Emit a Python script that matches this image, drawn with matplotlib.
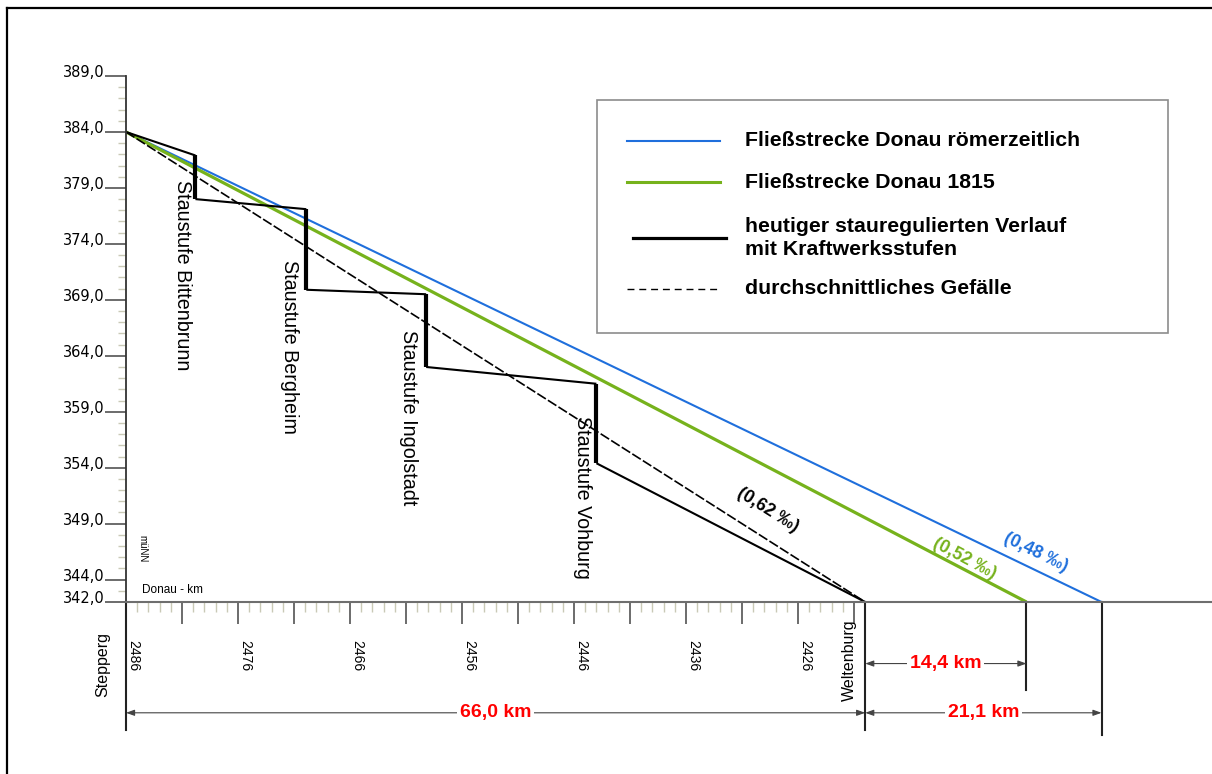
import numpy as np
import matplotlib
matplotlib.use("Agg")
import matplotlib.pyplot as plt
from matplotlib.lines import Line2D
from matplotlib.patches import Rectangle
from matplotlib.ticker import FixedLocator, FixedFormatter
import matplotlib.transforms as mtransforms

plt.rcParams["font.family"] = ["Liberation Sans", "DejaVu Sans"]

# distance from Stepperg (km) and water level (m uNN)
km_start = 2486
level_start = 384.0
level_end = 342.0
len_today = 66.0
len_1815 = 80.4
len_roman = 87.1

# staircase of today's regulated river: (km, level) corner points
stair_x = [0.0, 6.2, 6.2, 16.1, 16.1, 26.8, 26.8, 42.0, 42.0, 66.0]
stair_y = [384.0, 381.9, 378.0, 377.1, 369.9, 369.5, 363.0, 361.5, 354.4, 342.0]

dams = ["Staustufe Bittenbrunn", "Staustufe Bergheim",
        "Staustufe Ingolstadt", "Staustufe Vohburg"]
dam_label_x = [5.0, 14.6, 25.2, 40.8]
dam_label_y = [379.7, 372.6, 366.3, 358.6]

y_major = [342, 344, 349, 354, 359, 364, 369, 374, 379, 384, 389]
x_major = list(range(0, 66, 5))
x_labelled = [0, 10, 20, 30, 40, 50, 60]

blue = "#1f6fdc"
green = "#76b21c"

fig = plt.figure(figsize=(12.12, 7.74), dpi=100)
W, H = 1212, 774
ax = fig.add_axes([126 / W, (H - 602) / H, (W - 126) / W, (602 - 76) / H])
ax.set_xlim(0, (W - 126) / 11.2)
ax.set_ylim(342, 389)

# profiles
ax.plot([0, len_roman], [level_start, level_end], color=blue, lw=1.5,
        solid_capstyle="butt")
ax.plot([0, len_1815], [level_start, level_end], color=green, lw=2.3,
        solid_capstyle="butt")
ax.plot([0, len_today], [level_start, level_end], color="black", lw=1.2,
        dashes=(6, 1.5))

# staircase: sloped parts thin, dam drops thick
for i in range(len(stair_x) - 1):
    vertical = stair_x[i] == stair_x[i + 1]
    ax.plot(stair_x[i:i + 2], stair_y[i:i + 2], color="black",
            lw=3.0 if vertical else 1.5, solid_capstyle="butt")

for name, lx, ly in zip(dams, dam_label_x, dam_label_y):
    ax.text(lx, ly, name, rotation=-90, ha="center", va="top", fontsize=14.2)

# gradient labels
ax.text(57.3, 350.2, "(0,62 \u2030)", rotation=-32, ha="center", va="center",
        fontsize=12.8, fontweight="bold", color="black")
ax.text(74.9, 345.9, "(0,52 \u2030)", rotation=-28, ha="center", va="center",
        fontsize=12.8, fontweight="bold", color=green)
ax.text(81.2, 346.4, "(0,48 \u2030)", rotation=-26, ha="center", va="center",
        fontsize=12.8, fontweight="bold", color=blue)

# axes styling
for s in ["top", "right"]:
    ax.spines[s].set_visible(False)
ax.spines["left"].set_color("#333333")
ax.spines["left"].set_linewidth(1.3)
ax.spines["bottom"].set_color("#6e6e6e")
ax.spines["bottom"].set_linewidth(1.5)

ax.yaxis.set_major_locator(FixedLocator(y_major))
ax.yaxis.set_major_formatter(FixedFormatter([f"{v},0" for v in y_major]))
ax.yaxis.set_minor_locator(FixedLocator([v for v in range(342, 390) if v not in y_major]))
ax.tick_params(axis="y", which="major", length=15, width=1.1, color="#444444",
               pad=0.5, labelsize=10.5)
ax.tick_params(axis="y", which="minor", length=6, width=1.0, color="#c9c9b6")
for lab in ax.get_yticklabels():
    lab.set_family("DejaVu Sans")
    lab.set_transform(lab.get_transform() +
                      mtransforms.ScaledTranslation(0, 5 / 100, fig.dpi_scale_trans))

ax.xaxis.set_major_locator(FixedLocator(x_major))
ax.xaxis.set_major_formatter(FixedFormatter(
    [str(km_start - v) if v in x_labelled else "" for v in x_major]))
ax.xaxis.set_minor_locator(FixedLocator([v for v in range(1, 66) if v % 5]))
ax.tick_params(axis="x", which="major", length=16, width=1.1, color="#444444",
               pad=11, labelsize=10, labelrotation=-90)
ax.tick_params(axis="x", which="minor", length=7, width=1.0, color="#c9c9b6")
for lab in ax.get_xticklabels():
    lab.set_transform(lab.get_transform() +
                      mtransforms.ScaledTranslation(7 / 100, 0, fig.dpi_scale_trans))

ax.text(1.5, 346.8, "müNN", rotation=-90, ha="center", va="center", fontsize=7)
ax.text(1.43, 343.1, "Donau - km", ha="left", va="center", fontsize=8.5)

# vertical reference lines below the axis
ax.plot([0, 0], [342, 330.6], color="#222222", lw=1.5, clip_on=False)
ax.plot([len_today, len_today], [342, 330.6], color="#222222", lw=1.5, clip_on=False)
ax.plot([len_1815, len_1815], [342, 334.1], color="#222222", lw=1.5, clip_on=False)
ax.plot([len_roman, len_roman], [342, 330.1], color="#222222", lw=1.5, clip_on=False)

ax.text(-2.05, 336.4, "Stepperg", rotation=90, ha="center", va="center",
        fontsize=11.5)
ax.text(64.55, 336.8, "Weltenburg", rotation=90, ha="center", va="center",
        fontsize=11.5)


def dimension(x0, x1, y, label):
    ax.annotate("", xy=(x0, y), xytext=(x1, y), annotation_clip=False,
                arrowprops=dict(arrowstyle="<|-|>,head_length=0.5,head_width=0.18",
                                color="#444444", lw=0.8, shrinkA=0, shrinkB=0))
    ax.text((x0 + x1) / 2, y, label, ha="center", va="center", color="#ff0000",
            fontsize=14, fontweight="bold", clip_on=False,
            bbox=dict(facecolor="white", edgecolor="none", pad=2))


dimension(0, len_today, 332.1, "66,0 km")
dimension(len_today, len_1815, 336.5, "14,4 km")
dimension(len_today, len_roman, 332.1, "21,1 km")

# legend box
legend_labels = ["Fließstrecke Donau römerzeitlich", "Fließstrecke Donau 1815",
                 "heutiger stauregulierten Verlauf\nmit Kraftwerksstufen",
                 "durchschnittliches Gefälle"]
legend_colors = [blue, green, "black", "black"]
legend_widths = [1.5, 2.2, 2.3, 1.0]
legend_styles = ["-", "-", "-", "--"]
legend_ypx = [141, 182, 238, 289]

fig.patches.append(Rectangle((597 / W, 1 - 333 / H), (1168 - 597) / W, (333 - 100) / H,
                             transform=fig.transFigure, facecolor="white",
                             edgecolor="#8c8c8c", lw=1.2, zorder=5))
for lab, c, lw, ls, ypx in zip(legend_labels, legend_colors, legend_widths,
                               legend_styles, legend_ypx):
    yy = 1 - ypx / H
    x0 = 633 if c == "black" and ls == "-" else 627
    ln = Line2D([x0 / W, (x0 + 93) / W], [yy, yy], transform=fig.transFigure,
                color=c, lw=lw, ls=ls, zorder=6)
    if ls == "--":
        ln.set_dashes((5, 3.5))
    fig.lines.append(ln)
    fig.text(745 / W, yy, lab, ha="left", va="center", fontsize=15.3,
             fontweight="bold", linespacing=1.3, zorder=7)

# outer frame
fig.lines.append(Line2D([7 / W, 7 / W], [0, 1 - 8 / H], transform=fig.transFigure,
                        color="black", lw=1.6))
fig.lines.append(Line2D([7 / W, 1], [1 - 8 / H, 1 - 8 / H], transform=fig.transFigure,
                        color="black", lw=1.6))

fig.savefig("out.png", dpi=100)
